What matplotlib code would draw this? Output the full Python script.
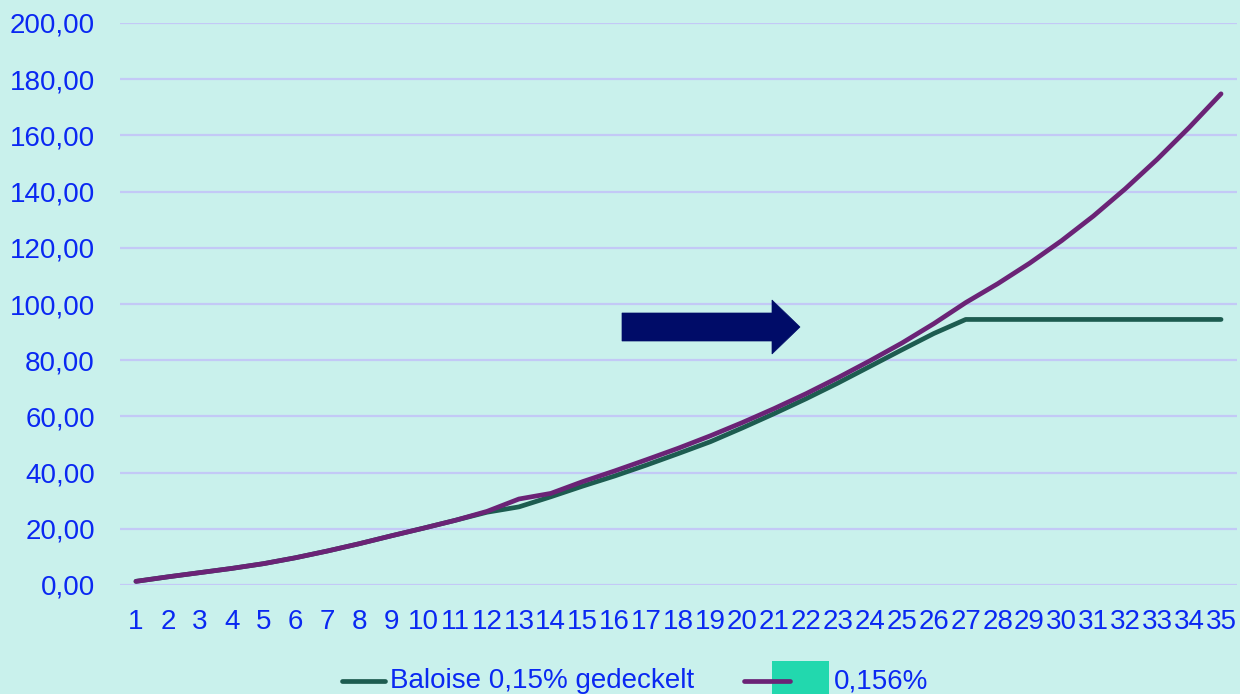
import matplotlib
matplotlib.use("Agg")
import matplotlib.pyplot as plt
from matplotlib.patches import Polygon, Rectangle
from matplotlib.lines import Line2D

years = list(range(1, 36))
baloise = [1.3, 2.9, 4.4, 5.9, 7.6, 9.7, 12.1, 14.7, 17.5, 20.2, 23.0, 25.9,
           27.8, 31.4, 35.2, 38.8, 42.7, 46.8, 51.0, 55.9, 61.0, 66.3, 71.9,
           77.8, 83.7, 89.5, 94.5, 94.5, 94.5, 94.5, 94.5, 94.5, 94.5, 94.5, 94.5]
other = [1.3, 2.9, 4.4, 5.9, 7.6, 9.7, 12.1, 14.7, 17.5, 20.2, 23.0, 26.2,
         30.6, 32.6, 36.8, 40.6, 44.6, 48.7, 53.1, 57.8, 62.8, 68.1, 73.8,
         79.8, 86.1, 93.0, 100.5, 107.2, 114.5, 122.5, 131.3, 141.0, 151.5,
         162.8, 174.8]
y_ticks = [0, 20, 40, 60, 80, 100, 120, 140, 160, 180, 200]
label_baloise = "Baloise 0,15% gedeckelt"
label_other = "0,156%"

BG = "#C9F1EC"
TXT = "#0A28F2"
GREEN = "#1D5C50"
PURPLE = "#6B2376"
GRID = "#C3C9F6"
TEAL = "#22D8AE"
NAVY = "#000C68"
FS = 20

plt.rcParams['font.family'] = ['Liberation Sans', 'DejaVu Sans']

W, H = 1240, 694
fig = plt.figure(figsize=(W / 100, H / 100), dpi=100, facecolor=BG)

def fx(px):
    return px / W

def fy(py):
    return 1 - py / H

ax = fig.add_axes([fx(120), fy(585), fx(1237) - fx(120), fy(23) - fy(585)])
ax.set_facecolor(BG)
ax.plot(years, baloise, color=GREEN, lw=3.4, solid_capstyle='round', zorder=3)
ax.plot(years, other, color=PURPLE, lw=3.4, solid_capstyle='round', zorder=4)

ax.set_xlim(0.5, 35.5)
ax.set_ylim(0, 200)
ax.set_yticks(y_ticks)
ax.set_yticklabels([f"{v:.2f}".replace('.', ',') for v in y_ticks])
ax.set_xticks(years)
ax.set_xticklabels([str(y) for y in years])
ax.tick_params(axis='both', length=0, labelsize=FS, labelcolor=TXT)
ax.tick_params(axis='y', pad=18)
ax.tick_params(axis='x', pad=17)
for s in ax.spines.values():
    s.set_visible(False)
ax.grid(axis='y', color=GRID, lw=1.6, zorder=0)
ax.set_axisbelow(True)

# block arrow (pixel coordinates of the reference)
arrow_px = [(622, 313), (772, 313), (772, 300), (800, 327), (772, 354),
            (772, 341), (622, 341)]
fig.add_artist(Polygon([(fx(x), fy(y)) for x, y in arrow_px], closed=True,
                       transform=fig.transFigure, facecolor=NAVY,
                       edgecolor=NAVY, lw=0.5, zorder=5))

# legend
ly = fy(681)
fig.add_artist(Line2D([fx(342), fx(385)], [ly, ly], transform=fig.transFigure,
                      color=GREEN, lw=3.4, solid_capstyle='round'))
fig.text(fx(390), ly, label_baloise, color=TXT, fontsize=FS,
         va='center', ha='left')
fig.add_artist(Line2D([fx(744), fx(790)], [ly, ly], transform=fig.transFigure,
                      color=PURPLE, lw=3.4, solid_capstyle='round'))
fig.add_artist(Rectangle((fx(772), fy(700)), fx(829) - fx(772), fy(661) - fy(700),
                         transform=fig.transFigure, facecolor=TEAL,
                         edgecolor='none'))
fig.text(fx(834), ly, label_other, color=TXT, fontsize=FS,
         va='center', ha='left')

fig.savefig("out.png", dpi=100, facecolor=BG)
